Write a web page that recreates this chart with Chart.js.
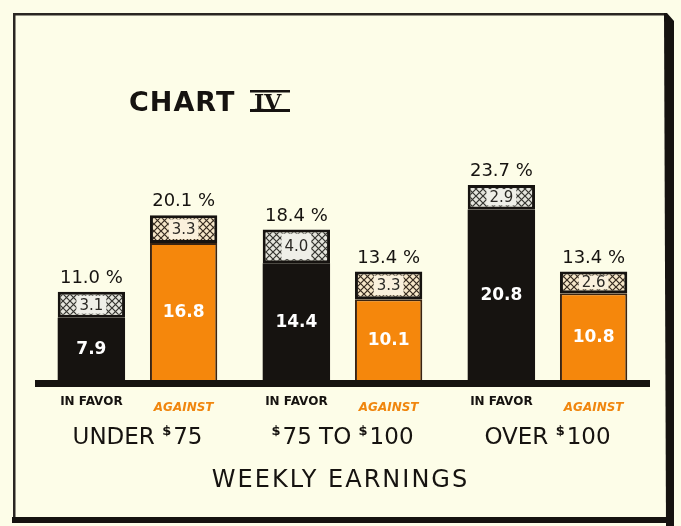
<!DOCTYPE html>
<html>
<head>
<meta charset="utf-8">
<script src="https://cdn.jsdelivr.net/npm/chart.js@4.4.1/dist/chart.umd.min.js"></script>
<style>
  html, body { margin: 0; padding: 0; background: #fdfde8; }
  #wrap { width: 681px; height: 526px; }
</style>
</head>
<body>
<div id="wrap"><canvas id="earningsChart"></canvas></div>
<script>
// weekly earnings groups, "$" is drawn as a superscript
const groups = ['UNDER $75', '$75 TO $100', 'OVER $100'];
const sideLabels = ['IN FAVOR', 'AGAINST'];
const favorBase = [7.9, 14.4, 20.8];
const favorTop = [3.1, 4.0, 2.9];
const againstBase = [16.8, 10.1, 10.8];
const againstTop = [3.3, 3.3, 2.6];

const PAPER = '#fdfde8';
const INK = '#161310';
const ORANGE = '#f5870c';
const FONT = '"DejaVu Sans", sans-serif';

const canvas = document.getElementById('earningsChart');
const mainCtx = canvas.getContext('2d');

function crossHatch(bg, line) {
  const c = document.createElement('canvas');
  c.width = c.height = 7;
  const g = c.getContext('2d');
  g.fillStyle = bg;
  g.fillRect(0, 0, 7, 7);
  g.strokeStyle = line;
  g.lineWidth = 1.2;
  g.beginPath();
  g.moveTo(0, 0); g.lineTo(7, 7);
  g.moveTo(7, 0); g.lineTo(0, 7);
  g.stroke();
  return mainCtx.createPattern(c, 'repeat');
}

const favorHatch = crossHatch('#e4e4dc', '#34342f');
const againstHatch = crossHatch('#f5e6c8', '#352a1f');

function drawGroupLabel(ctx, text, cx, y) {
  const parts = text.split(/(\$)/).filter(Boolean);
  const big = '23px ' + FONT;
  const small = 'bold 13px ' + FONT;
  let w = 0;
  parts.forEach(p => {
    ctx.font = p === '$' ? small : big;
    w += ctx.measureText(p).width + (p === '$' ? 2 : 0);
  });
  let x = cx - w / 2;
  ctx.textAlign = 'left';
  ctx.textBaseline = 'alphabetic';
  parts.forEach(p => {
    if (p === '$') {
      ctx.font = small;
      ctx.fillText(p, x, y - 9);
      x += ctx.measureText(p).width + 2;
    } else {
      ctx.font = big;
      ctx.fillText(p, x, y);
      x += ctx.measureText(p).width;
    }
  });
}

const paperPlugin = {
  id: 'paperFrame',
  beforeDraw(chart) {
    const ctx = chart.ctx;
    ctx.save();
    ctx.fillStyle = PAPER;
    ctx.fillRect(0, 0, chart.width, chart.height);
    ctx.fillStyle = '#2a2622';
    ctx.fillRect(13, 13, 2.5, 508);
    ctx.fillRect(13, 13, 654, 2.5);
    ctx.fillStyle = INK;
    ctx.beginPath();
    ctx.moveTo(664, 13);
    ctx.lineTo(667, 13);
    ctx.lineTo(674, 21);
    ctx.lineTo(674, 526);
    ctx.lineTo(666, 526);
    ctx.closePath();
    ctx.fill();
    ctx.fillRect(12, 517, 660, 6);
    ctx.restore();
  },
  afterDatasetsDraw(chart) {
    const ctx = chart.ctx;
    const area = chart.chartArea;
    const zero = chart.scales.y.getPixelForValue(0);
    ctx.save();

    // heavy base line
    ctx.fillStyle = INK;
    ctx.fillRect(area.left, zero - 4, area.right - area.left, 7);

    const baseSets = [0, 2];
    baseSets.forEach((bi, side) => {
      const baseMeta = chart.getDatasetMeta(bi);
      const topMeta = chart.getDatasetMeta(bi + 1);
      const baseVals = chart.data.datasets[bi].data;
      const topVals = chart.data.datasets[bi + 1].data;
      baseMeta.data.forEach((bar, i) => {
        const top = topMeta.data[i];

        // value of the solid part
        ctx.fillStyle = '#ffffff';
        ctx.font = 'bold 17px ' + FONT;
        ctx.textAlign = 'center';
        ctx.textBaseline = 'middle';
        ctx.fillText(baseVals[i].toFixed(1), bar.x, (bar.y + Math.min(bar.base, zero - 4)) / 2 + 1);

        // value of the hatched part on a light patch
        const label = topVals[i].toFixed(1);
        ctx.font = '15px ' + FONT;
        const tw = ctx.measureText(label).width;
        const h = top.base - top.y;
        ctx.fillStyle = side === 0 ? '#efefe8' : '#faf0dc';
        ctx.fillRect(top.x - tw / 2 - 3, top.y + 4, tw + 6, h - 8);
        ctx.fillStyle = '#2b2925';
        ctx.fillText(label, top.x, (top.y + top.base) / 2 + 1);

        // total above the bar
        const total = (baseVals[i] + topVals[i]).toFixed(1) + ' %';
        ctx.fillStyle = INK;
        ctx.font = '18px ' + FONT;
        ctx.textBaseline = 'alphabetic';
        ctx.fillText(total, top.x, top.y - 9);

        // side label under the base line
        if (side === 0) {
          ctx.font = 'bold 12px ' + FONT;
          ctx.fillStyle = INK;
          ctx.fillText(sideLabels[0], bar.x, zero + 21);
        } else {
          ctx.font = 'italic bold 12px ' + FONT;
          ctx.fillStyle = '#f0860e';
          ctx.fillText(sideLabels[1], bar.x, zero + 27);
        }
      });
    });

    // group labels
    ctx.fillStyle = INK;
    const xs = chart.scales.x;
    groups.forEach((g, i) => drawGroupLabel(ctx, g, xs.getPixelForValue(i), zero + 60));

    // axis caption
    ctx.font = '24px ' + FONT;
    ctx.letterSpacing = '2px';
    ctx.textAlign = 'center';
    ctx.fillText('WEEKLY EARNINGS', (area.left + area.right) / 2 - 2, zero + 103);

    // chart heading
    ctx.letterSpacing = '1px';
    ctx.textAlign = 'left';
    ctx.font = 'bold 27px ' + FONT;
    ctx.fillText('CHART', 129, 111);
    ctx.letterSpacing = '0px';
    ctx.font = 'bold 22px "DejaVu Serif", serif';
    ctx.fillText('IV', 254, 110);
    ctx.fillRect(250, 90, 40, 2.5);
    ctx.fillRect(250, 109, 40, 3);
    ctx.restore();
  }
};

new Chart(canvas, {
  type: 'bar',
  data: {
    labels: groups,
    datasets: [
      { label: 'In favor', data: favorBase, stack: 'favor', backgroundColor: INK, borderWidth: 0 },
      { label: 'In favor, hatched', data: favorTop, stack: 'favor', backgroundColor: favorHatch, borderColor: INK },
      { label: 'Against', data: againstBase, stack: 'against', backgroundColor: ORANGE, borderColor: '#3a2412', borderWidth: 2 },
      { label: 'Against, hatched', data: againstTop, stack: 'against', backgroundColor: againstHatch, borderColor: INK }
    ]
  },
  options: {
    responsive: true,
    maintainAspectRatio: false,
    animation: false,
    layout: { padding: { left: 35, right: 31, top: 149, bottom: 142 } },
    datasets: {
      bar: {
        categoryPercentage: 0.9,
        barPercentage: 0.73,
        borderWidth: 3,
        borderSkipped: false
      }
    },
    scales: {
      x: { display: false, stacked: true },
      y: { display: false, stacked: true, min: 0, max: 28 }
    },
    plugins: {
      legend: { display: false },
      tooltip: { enabled: false },
      title: { display: false }
    }
  },
  plugins: [paperPlugin]
});
</script>
</body>
</html>
